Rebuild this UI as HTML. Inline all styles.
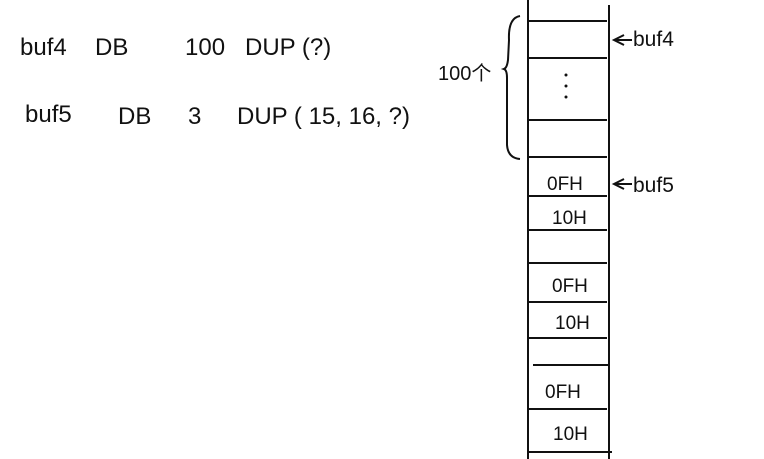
<!DOCTYPE html>
<html><head><meta charset="utf-8"><style>
html,body{margin:0;padding:0;background:#fff;width:764px;height:459px;overflow:hidden}
text{font-family:"Liberation Sans",sans-serif;fill:#111}
</style></head><body>
<svg width="764" height="459">
<g font-size="24">
<text x="20" y="55">buf4</text>
<text x="95" y="55">DB</text>
<text x="185" y="55">100</text>
<text x="245" y="55">DUP (?)</text>
<text x="25" y="122">buf5</text>
<text x="118" y="124">DB</text>
<text x="188" y="124">3</text>
<text x="237" y="124">DUP ( 15, 16, ?)</text>
</g>
<g stroke="#111" stroke-width="2" fill="none">
<line x1="528" y1="0" x2="528" y2="459"/>
<line x1="609" y1="5" x2="609" y2="459"/>
<line x1="528" y1="21" x2="607" y2="21"/>
<line x1="528" y1="58" x2="607" y2="58"/>
<line x1="528" y1="120" x2="607" y2="120"/>
<line x1="528" y1="157" x2="607" y2="157"/>
<line x1="528" y1="196" x2="607" y2="196"/>
<line x1="528" y1="230" x2="607" y2="230"/>
<line x1="528" y1="263" x2="607" y2="263"/>
<line x1="528" y1="302" x2="607" y2="302"/>
<line x1="528" y1="338" x2="607" y2="338"/>
<line x1="533" y1="365" x2="609" y2="365"/>
<line x1="528" y1="409" x2="607" y2="409"/>
<line x1="528" y1="452" x2="612" y2="452"/>
<path d="M520 16 Q508 18 509 40 L508 60 Q507 68 504 69 Q507 70 507 78 L507 145 Q508 158 520 159"/>
<path d="M624 35 L614 40 L624 45 M614 40 L632 40"/>
<path d="M624 179 L614 184 L624 189 M614 184 L632 184"/>
</g>
<g fill="#111">
<circle cx="566" cy="75" r="1.5"/><circle cx="566" cy="86" r="1.5"/><circle cx="566" cy="97" r="1.5"/>
</g>
<text x="438" y="80" font-size="20">100个</text>
<text x="633" y="46" font-size="21">buf4</text>
<text x="633" y="192" font-size="21">buf5</text>
<g font-size="19">
<text x="547" y="190">0FH</text>
<text x="552" y="224">10H</text>
<text x="552" y="292">0FH</text>
<text x="555" y="329">10H</text>
<text x="545" y="398">0FH</text>
<text x="553" y="440">10H</text>
</g>
</svg>
</body></html>
